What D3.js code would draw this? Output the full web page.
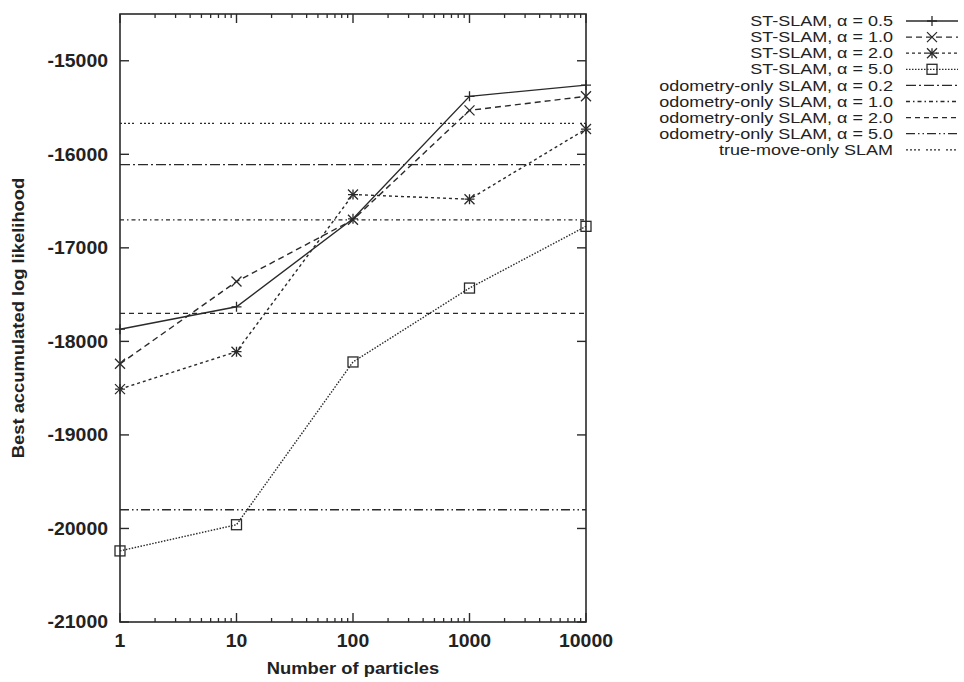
<!DOCTYPE html>
<html>
<head>
<meta charset="utf-8">
<script src="https://d3js.org/d3.v7.min.js"></script>
<style>
  body { margin: 0; background: #fff; }
  text { font-family: "Liberation Sans", Arial, sans-serif; fill: #222; }
</style>
</head>
<body>
<div id="my_dataviz"></div>
<script>
// data
var particles = [1, 10, 100, 1000, 10000];
var stSlam05 = [-17870, -17630, -16690, -15380, -15260];
var stSlam10 = [-18240, -17360, -16700, -15530, -15380];
var stSlam20 = [-18510, -18110, -16430, -16480, -15730];
var stSlam50 = [-20240, -19960, -18220, -17430, -16770];
var odometry02 = -16110;
var odometry10 = -16700;
var odometry20 = -17700;
var odometry50 = -19800;
var trueMove = -15670;
var xTicks = [1, 10, 100, 1000, 10000];
var yTicks = [-21000, -20000, -19000, -18000, -17000, -16000, -15000];

var W = 964, H = 682;
var margin = {top: 14, left: 120, right: 378, bottom: 60};
var width = W - margin.left - margin.right,
    height = H - margin.top - margin.bottom;

var svg = d3.select("#my_dataviz")
  .append("svg")
    .attr("width", W)
    .attr("height", H);

var g = svg.append("g")
    .attr("transform", "translate(" + margin.left + "," + margin.top + ")");

var x = d3.scaleLog()
  .domain([1, 10000])
  .range([0, width]);

var y = d3.scaleLinear()
  .domain([-21000, -14500])
  .range([height, 0]);

var ink = "#2a2a2a";

// series definitions (style only)
var series = [
  {name: "ST-SLAM, \u03b1 = 0.5", values: stSlam05, dash: null, marker: "plus"},
  {name: "ST-SLAM, \u03b1 = 1.0", values: stSlam10, dash: "6,4", marker: "cross"},
  {name: "ST-SLAM, \u03b1 = 2.0", values: stSlam20, dash: "3,3", marker: "star"},
  {name: "ST-SLAM, \u03b1 = 5.0", values: stSlam50, dash: "1.5,1.5", marker: "square"}
];
var flat = [
  {name: "odometry-only SLAM, \u03b1 = 0.2", value: odometry02, dash: "10,3,2,3"},
  {name: "odometry-only SLAM, \u03b1 = 1.0", value: odometry10, dash: "4,3,1.5,3"},
  {name: "odometry-only SLAM, \u03b1 = 2.0", value: odometry20, dash: "5,4"},
  {name: "odometry-only SLAM, \u03b1 = 5.0", value: odometry50, dash: "9,3,1.5,3,1.5,3"},
  {name: "true-move-only SLAM", value: trueMove, dash: "2,2,2,2,2,2,2,6"}
];

function drawMarker(sel, type, cx, cy) {
  var s = 5;
  if (type === "plus" || type === "star") {
    sel.append("path")
      .attr("d", "M" + (cx - s) + "," + cy + "H" + (cx + s) + "M" + cx + "," + (cy - s) + "V" + (cy + s))
      .attr("stroke", ink).attr("stroke-width", 1.3).attr("fill", "none");
  }
  if (type === "cross" || type === "star") {
    sel.append("path")
      .attr("d", "M" + (cx - s) + "," + (cy - s) + "L" + (cx + s) + "," + (cy + s) +
                 "M" + (cx - s) + "," + (cy + s) + "L" + (cx + s) + "," + (cy - s))
      .attr("stroke", ink).attr("stroke-width", 1.3).attr("fill", "none");
  }
  if (type === "square") {
    sel.append("rect")
      .attr("x", cx - 5).attr("y", cy - 5)
      .attr("width", 10).attr("height", 10)
      .attr("stroke", ink).attr("stroke-width", 1.3).attr("fill", "none");
  }
}

// horizontal baselines
flat.forEach(function(f) {
  g.append("line")
    .attr("x1", 0).attr("x2", width)
    .attr("y1", y(f.value)).attr("y2", y(f.value))
    .attr("stroke", ink)
    .attr("stroke-width", 1.3)
    .attr("stroke-dasharray", f.dash);
});

// ST-SLAM lines
var line = d3.line()
  .x(function(d, i) { return x(particles[i]); })
  .y(function(d) { return y(d); });

series.forEach(function(s) {
  g.append("path")
    .datum(s.values)
    .attr("d", line)
    .attr("fill", "none")
    .attr("stroke", ink)
    .attr("stroke-width", 1.4)
    .attr("stroke-dasharray", s.dash);
  s.values.forEach(function(v, i) {
    drawMarker(g, s.marker, x(particles[i]), y(v));
  });
});

// frame
g.append("rect")
  .attr("width", width).attr("height", height)
  .attr("fill", "none")
  .attr("stroke", ink)
  .attr("stroke-width", 1.6);

// y ticks (inside, both sides)
yTicks.forEach(function(t) {
  g.append("line").attr("x1", 0).attr("x2", 9).attr("y1", y(t)).attr("y2", y(t))
    .attr("stroke", ink).attr("stroke-width", 1.4);
  g.append("line").attr("x1", width - 9).attr("x2", width).attr("y1", y(t)).attr("y2", y(t))
    .attr("stroke", ink).attr("stroke-width", 1.4);
  g.append("text")
    .attr("transform", "translate(-12," + y(t) + ") scale(1.08,1)")
    .attr("dy", "0.36em")
    .attr("text-anchor", "end")
    .attr("font-size", 18)
    .attr("font-weight", "bold")
    .text(t);
});

// x ticks, with minor log ticks
var minor = x.ticks().filter(function(t) { return xTicks.indexOf(t) < 0; });
minor.forEach(function(t) {
  [[height, height - 4], [0, 4]].forEach(function(p) {
    g.append("line").attr("x1", x(t)).attr("x2", x(t)).attr("y1", p[0]).attr("y2", p[1])
      .attr("stroke", ink).attr("stroke-width", 1.3);
  });
});
xTicks.forEach(function(t) {
  [[height, height - 9], [0, 9]].forEach(function(p) {
    g.append("line").attr("x1", x(t)).attr("x2", x(t)).attr("y1", p[0]).attr("y2", p[1])
      .attr("stroke", ink).attr("stroke-width", 1.4);
  });
  g.append("text")
    .attr("transform", "translate(" + x(t) + "," + (height + 25) + ") scale(1.08,1)")
    .attr("text-anchor", "middle")
    .attr("font-size", 18)
    .attr("font-weight", "bold")
    .text(t);
});

// axis titles
svg.append("text")
  .attr("transform", "translate(" + (margin.left + width / 2) + ",674) scale(1.08,1)")
  .attr("text-anchor", "middle")
  .attr("font-size", 17)
  .attr("font-weight", "bold")
  .text("Number of particles");

svg.append("text")
  .attr("transform", "translate(24," + (margin.top + height / 2) + ") rotate(-90) scale(1.08,1)")
  .attr("text-anchor", "middle")
  .attr("font-size", 17)
  .attr("font-weight", "bold")
  .text("Best accumulated log likelihood");

// legend
var legend = svg.append("g").attr("transform", "translate(893,21)");
var rowH = 16.1;
series.concat(flat).forEach(function(s, i) {
  var yy = i * rowH;
  legend.append("text")
    .attr("transform", "translate(0," + yy + ") scale(1.25,1)")
    .attr("dy", "0.36em")
    .attr("text-anchor", "end")
    .attr("font-size", 14.4)
    .text(s.name);
  legend.append("line")
    .attr("x1", 13).attr("x2", 65)
    .attr("y1", yy).attr("y2", yy)
    .attr("stroke", ink)
    .attr("stroke-width", 1.3)
    .attr("stroke-dasharray", s.dash);
  if (s.marker) drawMarker(legend, s.marker, 39, yy);
});
</script>
</body>
</html>
